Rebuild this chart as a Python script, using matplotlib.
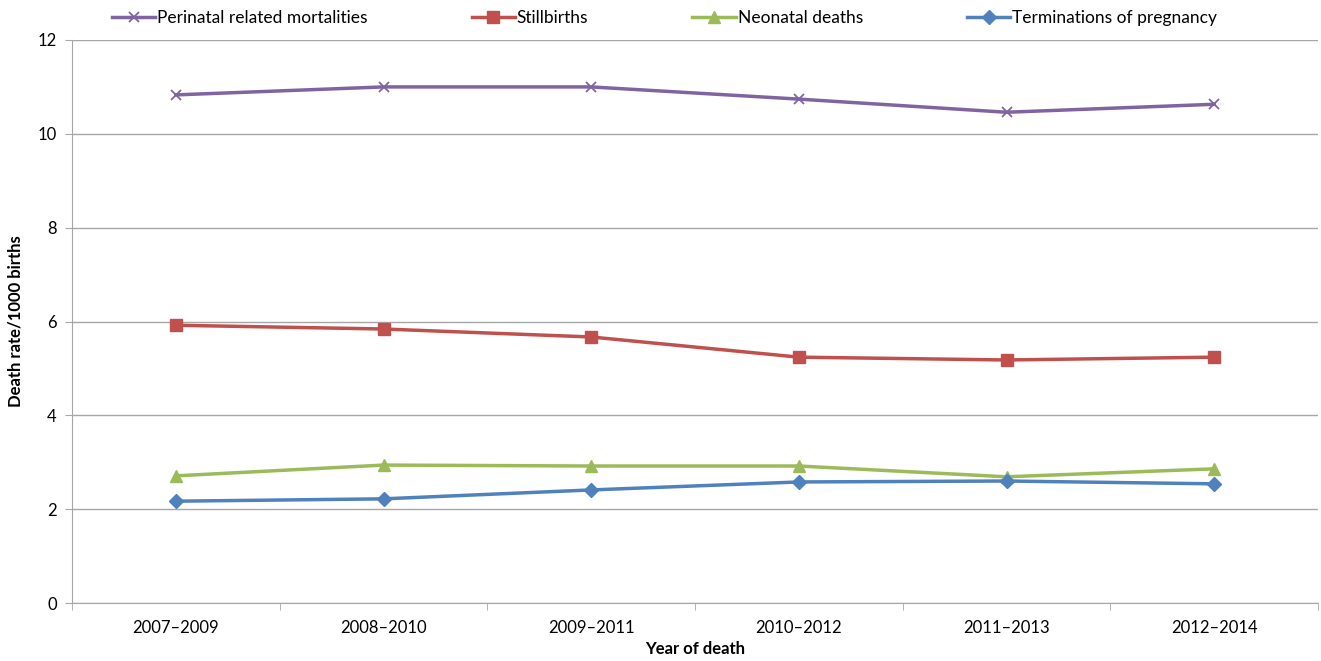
import matplotlib
matplotlib.use("Agg")
import matplotlib.pyplot as plt
import numpy as np

categories = ["2007–2009", "2008–2010", "2009–2011", "2010–2012", "2011–2013", "2012–2014"]
perinatal = [10.83, 11.0, 11.0, 10.74, 10.46, 10.63]
stillbirths = [5.92, 5.84, 5.67, 5.24, 5.18, 5.24]
neonatal = [2.71, 2.94, 2.92, 2.92, 2.69, 2.86]
terminations = [2.17, 2.22, 2.41, 2.58, 2.60, 2.54]

plt.rcParams['font.family'] = ['Lato', 'DejaVu Sans']

fig = plt.figure(figsize=(13.21, 6.61), dpi=100)
ax = fig.add_axes([72/1321, 1-603/661, (1318-72)/1321, (603-40)/661])

x = np.arange(len(categories))
l1, = ax.plot(x, perinatal, color='#8064A2', lw=2.5, marker='x', ms=7, mew=1.3, label='Perinatal related mortalities')
l2, = ax.plot(x, stillbirths, color='#C0504D', lw=2.5, marker='s', ms=8, label='Stillbirths')
l3, = ax.plot(x, neonatal, color='#9BBB59', lw=2.5, marker='^', ms=9, label='Neonatal deaths')
l4, = ax.plot(x, terminations, color='#4F81BD', lw=2.5, marker='D', ms=7, label='Terminations of pregnancy')

ax.set_xlim(-0.5, len(categories) - 0.5)
ax.set_ylim(0, 12)
ax.set_yticks(np.arange(0, 13, 2))
ax.grid(axis='y', color='#A6A6A6', lw=1)
ax.set_axisbelow(True)
ax.set_xticks(x)
ax.set_xticklabels(categories, fontsize=12)
ax.set_xticks(np.arange(-0.5, len(categories), 1), minor=True)
ax.tick_params(axis='x', which='major', length=0, pad=12)
ax.tick_params(axis='x', which='minor', length=5, color='#A6A6A6')
ax.tick_params(axis='y', length=5, color='#A6A6A6', labelsize=12, pad=6)
for s in ['top', 'right']:
    ax.spines[s].set_visible(False)
for s in ['left', 'bottom']:
    ax.spines[s].set_color('#A6A6A6')
ax.set_xlabel('Year of death', fontsize=12, fontweight='bold', labelpad=4)
ax.set_ylabel('Death rate/1000 births', fontsize=12, fontweight='bold', labelpad=10)

fig.legend(handles=[l1, l2, l3, l4], loc='upper center', bbox_to_anchor=(0.503, 1.008), ncol=4,
           frameon=False, fontsize=12.5, columnspacing=6.0, handlelength=2.5, handletextpad=0.1)

fig.savefig('out.png', dpi=100)
